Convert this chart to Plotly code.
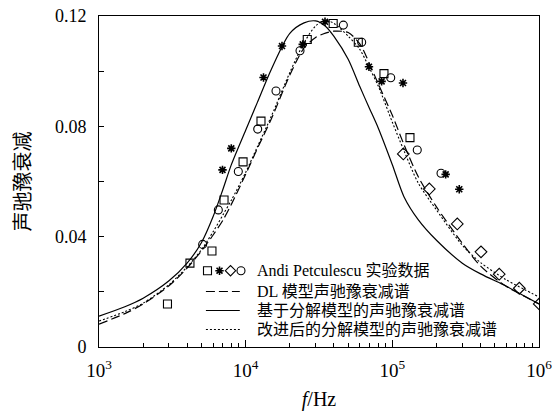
import plotly.graph_objects as go

# ---------------- data ----------------
# model curves (frequency in Hz, attenuation)
curve_f = [1000, 1500, 2000, 3000, 4000, 5000, 6000, 7000, 8000, 10000, 12000, 15000,
           20000, 25000, 30000, 35000, 40000, 50000, 60000, 70000, 80000, 100000,
           120000, 150000, 200000, 300000, 400000, 600000, 800000, 1000000]
dl_model = [0.0083, 0.0121, 0.0156, 0.0222, 0.0287, 0.0349, 0.0406, 0.0460, 0.0518, 0.0626,
            0.0719, 0.0828, 0.0986, 0.1084, 0.1122, 0.1138, 0.1145, 0.1140, 0.1099, 0.1026,
            0.0955, 0.0840, 0.0734, 0.0618, 0.0508, 0.0376, 0.0293, 0.0219, 0.0183, 0.0156]
decomp_model = [0.0112, 0.0146, 0.0177, 0.0240, 0.0305, 0.0379, 0.0473, 0.0572, 0.0662, 0.0786,
                0.0886, 0.1008, 0.1137, 0.1175, 0.1182, 0.1163, 0.1126, 0.1043, 0.0944, 0.0864,
                0.0795, 0.0661, 0.0545, 0.0462, 0.0387, 0.0304, 0.0265, 0.0220, 0.0184, 0.0156]
improved_model = [0.0094, 0.0128, 0.0159, 0.0226, 0.0291, 0.0353, 0.0418, 0.0479, 0.0533, 0.0633,
                  0.0725, 0.0838, 0.0995, 0.1103, 0.1164, 0.1185, 0.1173, 0.1127, 0.1079, 0.1010,
                  0.0947, 0.0815, 0.0712, 0.0595, 0.0497, 0.0369, 0.0306, 0.0243, 0.0208, 0.0181]

# experimental data (Andi Petculescu)
sq_f = [2930, 4170, 5890, 7120, 9600, 12720, 26300, 39500, 58600, 87700, 131900]
sq_y = [0.0156, 0.0304, 0.0348, 0.0533, 0.0671, 0.0819, 0.1115, 0.1173, 0.1105, 0.0991, 0.0759]
st_f = [6950, 7980, 13230, 17690, 24500, 34750, 69300, 84500, 118200, 231000, 286000]
st_y = [0.0642, 0.0720, 0.0977, 0.1091, 0.1097, 0.1179, 0.1016, 0.0963, 0.0957, 0.0626, 0.0572]
ci_f = [5090, 6510, 8910, 12080, 16100, 23470, 46350, 61800, 97500, 147900, 214800]
ci_y = [0.0372, 0.0497, 0.0636, 0.0790, 0.0928, 0.1074, 0.1167, 0.1105, 0.0976, 0.0714, 0.0630]
di_f = [118800, 178700, 277200, 402300, 535500, 734000, 1004000]
di_y = [0.0700, 0.0573, 0.0446, 0.0345, 0.0264, 0.0213, 0.0156]

x_tick_vals = [1e3, 1e4, 1e5, 1e6]
x_tick_text = ["10<sup>3</sup>", "10<sup>4</sup>", "10<sup>5</sup>", "10<sup>6</sup>"]
y_tick_vals = [0, 0.02, 0.04, 0.06, 0.08, 0.10, 0.12]
y_tick_text = ["0", "", "0.04", "", "0.08", "", "0.12"]

legend_labels = ["Andi Petculescu 实验数据", "DL 模型声驰豫衰减谱",
                 "基于分解模型的声驰豫衰减谱", "改进后的分解模型的声驰豫衰减谱"]

# --------------- figure ---------------
FONT = "Liberation Serif, 'Noto Sans CJK SC', serif"
BLACK = "#000000"

fig = go.Figure()

fig.add_trace(go.Scatter(x=curve_f, y=decomp_model, mode="lines",
                         line=dict(color=BLACK, width=1.2, shape="spline", smoothing=0.8), showlegend=False))
fig.add_trace(go.Scatter(x=curve_f, y=dl_model, mode="lines",
                         line=dict(color=BLACK, width=1.2, dash="9px,4px", shape="spline", smoothing=0.8),
                         showlegend=False))
fig.add_trace(go.Scatter(x=curve_f, y=improved_model, mode="lines",
                         line=dict(color=BLACK, width=1.1, dash="2px,2px", shape="spline", smoothing=0.8),
                         showlegend=False))

def mk(symbol, size=8, lw=1.1):
    return dict(symbol=symbol, size=size, color=BLACK, line=dict(color=BLACK, width=lw))

fig.add_trace(go.Scatter(x=sq_f, y=sq_y, mode="markers", marker=mk("square-open"), showlegend=False))
fig.add_trace(go.Scatter(x=ci_f, y=ci_y, mode="markers", marker=mk("circle-open"), showlegend=False))
fig.add_trace(go.Scatter(x=di_f, y=di_y, mode="markers", marker=mk("diamond-open", 9), showlegend=False))
fig.add_trace(go.Scatter(x=st_f, y=st_y, mode="markers", marker=mk("asterisk-open", 7, 1.6), showlegend=False))

# ---- custom legend on an overlay axis (fraction of plot area) ----
row_y = [0.2305, 0.1677, 0.1103, 0.0529]
sym_x = [0.2466, 0.2739, 0.2989, 0.3227]
sym = ["square-open", "asterisk-open", "diamond-open", "circle-open"]
for sx, s in zip(sym_x, sym):
    fig.add_trace(go.Scatter(x=[sx], y=[row_y[0]], xaxis="x2", yaxis="y2", mode="markers",
                             marker=mk(s, 7 if s == "asterisk-open" else 8, 1.6 if s == "asterisk-open" else 1.1),
                             showlegend=False, hoverinfo="skip"))
line_styles = [("9px,4px", 1.2), ("solid", 1.2), ("2px,2px", 1.1)]
for ry, (d, w) in zip(row_y[1:], line_styles):
    fig.add_trace(go.Scatter(x=[0.243, 0.320], y=[ry, ry], xaxis="x2", yaxis="y2", mode="lines",
                             line=dict(color=BLACK, width=w, dash=d), showlegend=False, hoverinfo="skip"))
for ry, txt in zip(row_y, legend_labels):
    fig.add_annotation(x=0.355, y=ry, xref="x2", yref="y2", text=txt, showarrow=False,
                       xanchor="left", yanchor="middle", font=dict(family=FONT, size=16, color=BLACK))

fig.update_layout(
    width=553, height=415,
    margin=dict(l=99, r=14, t=16, b=68, autoexpand=False),
    paper_bgcolor="white", plot_bgcolor="white",
    font=dict(family=FONT, color=BLACK),
    xaxis=dict(type="log", range=[3, 6], tickmode="array", tickvals=x_tick_vals, ticktext=x_tick_text,
               ticks="inside", ticklen=7, tickwidth=1, tickcolor=BLACK, ticklabelstandoff=6,
               minor=dict(ticks="inside", ticklen=4, tickcolor=BLACK,
                          tickvals=[m * 10 ** e for e in (3, 4, 5) for m in range(2, 10)]),
               showline=True, linecolor=BLACK, linewidth=1, mirror=True, showgrid=False, zeroline=False,
               automargin=False, tickfont=dict(family=FONT, size=19),
               title=dict(text="<i>f</i>/Hz", font=dict(family=FONT, size=20), standoff=12)),
    yaxis=dict(range=[0, 0.12], tickmode="array", tickvals=y_tick_vals, ticktext=y_tick_text,
               ticks="inside", ticklen=5, tickwidth=1, tickcolor=BLACK, ticklabelstandoff=8,
               showline=True, linecolor=BLACK, linewidth=1, mirror=True, showgrid=False, zeroline=False,
               automargin=False, tickfont=dict(family=FONT, size=18),
               title=dict(text="声驰豫衰减", font=dict(family=FONT, size=20), standoff=18)),
    xaxis2=dict(overlaying="x", range=[0, 1], visible=False, automargin=False),
    yaxis2=dict(overlaying="y", range=[0, 1], visible=False, automargin=False),
)

fig.write_html("out.html", config={"displayModeBar": False},
               post_script="document.body.style.margin='0';")
